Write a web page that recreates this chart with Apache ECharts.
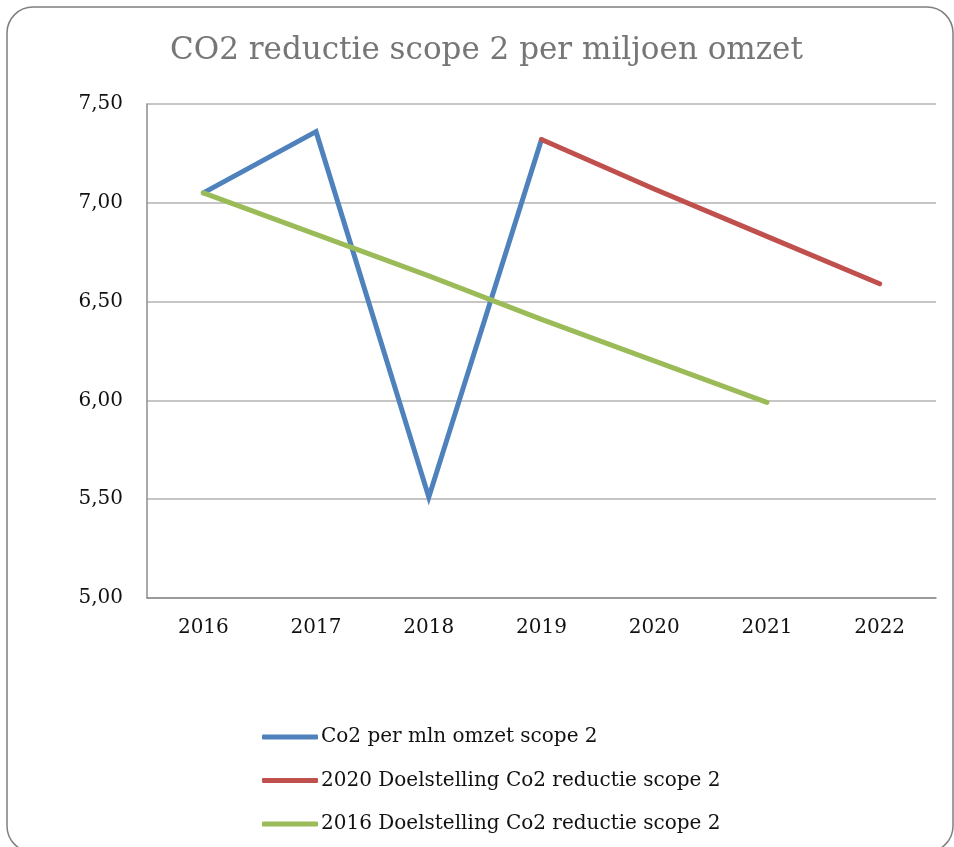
<!DOCTYPE html>
<html>
<head>
<meta charset="utf-8">
<script src="https://cdn.jsdelivr.net/npm/echarts@6/dist/echarts.min.js"></script>
<style>html,body{margin:0;padding:0;background:#fff}#c{width:954px;height:847px}</style>
</head>
<body>
<div id="c"></div>
<script>
const categories = ['2016','2017','2018','2019','2020','2021','2022'];
const actual = [7.05, 7.36, 5.51, 7.32, null, null, null];
const target2020 = [null, null, null, 7.32, 7.07, 6.83, 6.59];
const target2016 = [7.05, 6.84, 6.63, 6.41, 6.20, 5.99, null];
const seriesNames = ['Co2 per mln omzet scope 2', '2020 Doelstelling Co2 reductie scope 2', '2016 Doelstelling Co2 reductie scope 2'];
const titleText = 'CO2 reductie scope 2 per miljoen omzet';

const FONT = '"DejaVu Serif", serif';
const chart = echarts.init(document.getElementById('c'), null, {renderer: 'canvas'});
function mk(name, data, color) {
  return {name, type: 'line', data, symbol: 'none', connectNulls: false,
    lineStyle: {width: 5, color, cap: 'round', join: 'miter'}, itemStyle: {color}, z: 3};
}
chart.setOption({
  animation: false,
  backgroundColor: '#fff',
  title: {text: titleText, left: 170, top: 35, padding: 0,
    textStyle: {fontFamily: FONT, fontSize: 31, fontWeight: 'normal', color: '#767676'}},
  grid: {left: 147, right: 18, top: 104, bottom: 249},
  xAxis: {type: 'category', data: categories, boundaryGap: true,
    axisLine: {lineStyle: {color: '#8c8c8c', width: 1.5}}, axisTick: {show: false},
    axisLabel: {fontFamily: FONT, fontSize: 20, color: '#111', margin: 20}},
  yAxis: {type: 'value', min: 5, max: 7.5, interval: 0.5,
    axisLine: {show: true, lineStyle: {color: '#8c8c8c', width: 1.5}}, axisTick: {show: false},
    splitLine: {lineStyle: {color: '#b3b3b3', width: 1.5}},
    axisLabel: {fontFamily: FONT, fontSize: 20, color: '#111', margin: 24,
      formatter: v => v.toFixed(2).replace('.', ',')}},
  legend: {orient: 'vertical', left: 262, top: 725, padding: 0, itemWidth: 56, itemHeight: 5, itemGap: 19.5,
    icon: 'roundRect',
    textStyle: {fontFamily: FONT, fontSize: 20, lineHeight: 24, color: '#111', padding: [0,0,0,-2]},
    data: seriesNames},
  graphic: [{type: 'rect', shape: {x: 7, y: 7, width: 946, height: 845, r: 26},
    style: {fill: null, stroke: '#7f7f7f', lineWidth: 1.5}, z: -1, silent: true}],
  series: [
    mk(seriesNames[0], actual, '#4F81BD'),
    mk(seriesNames[1], target2020, '#C0504D'),
    mk(seriesNames[2], target2016, '#9BBB59')
  ]
});
</script>
</body>
</html>
